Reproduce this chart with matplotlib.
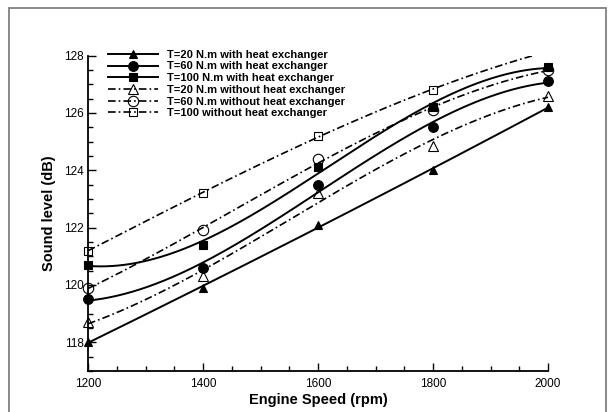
import numpy as np
import matplotlib
matplotlib.use("Agg")
import matplotlib.pyplot as plt
from matplotlib.patches import Rectangle

# engine speed (rpm)
speed = np.array([1200, 1400, 1600, 1800, 2000])

# sound level (dB), with heat exchanger
t20_with = [118.0, 119.9, 122.1, 124.0, 126.2]
t60_with = [119.5, 120.6, 123.5, 125.5, 127.1]
t100_with = [120.7, 121.4, 124.1, 126.2, 127.6]

# sound level (dB), without heat exchanger
t20_without = [118.7, 120.3, 123.2, 124.85, 126.6]
t60_without = [119.9, 121.9, 124.4, 126.1, 127.5]
t100_without = [121.2, 123.2, 125.2, 126.8, 128.15]

labels = ["T=20 N.m with heat exchanger",
          "T=60 N.m with heat exchanger",
          "T=100 N.m with heat exchanger",
          "T=20 N.m without heat exchanger",
          "T=60 N.m without heat exchanger",
          "T=100 without heat exchanger"]

plt.rcParams['font.family'] = ['Liberation Sans', 'DejaVu Sans']
plt.rcParams['lines.scale_dashes'] = False

fig = plt.figure(figsize=(6.15, 4.12), dpi=100)
ax = fig.add_axes([88 / 615, 1 - 371 / 412, 460 / 615, 315.5 / 412])

# grey frame around the whole figure
fig.patches.append(Rectangle((8.5 / 615, -0.05), 597.5 / 615, 1.05 - 7.5 / 412,
                             transform=fig.transFigure, fill=False,
                             edgecolor='#808080', linewidth=1.3))

dashdot = (5.5, 2.2, 1.2, 2.2)
series = [
    (t20_with, '^', 'k', 6.0, None, 3),
    (t60_with, 'o', 'k', 7.0, None, 3),
    (t100_with, 's', 'k', 6.0, None, 3),
    (t20_without, '^', 'none', 6.5, dashdot, 3),
    (t60_without, 'o', 'none', 7.5, dashdot, 3),
    (t100_without, 's', 'none', 6.0, dashdot, 3),
]

xs = np.linspace(1200, 2000, 300)
handles = []
for (vals, mk, fc, ms, dash, deg), lab in zip(series, labels):
    vals = np.array(vals)
    # smooth curve fit, as in the original figure
    coef = np.polyfit((speed - 1600) / 400.0, vals, deg)
    ys = np.polyval(coef, (xs - 1600) / 400.0)
    lw = 1.4 if dash is None else 1.2
    line, = ax.plot(xs, ys, color='k', lw=lw)
    if dash is not None:
        line.set_dashes(dash)
    inside = vals <= 128
    ax.plot(speed[inside], vals[inside], linestyle='none', marker=mk,
            markersize=ms, markerfacecolor=fc, markeredgecolor='k',
            markeredgewidth=0.8, clip_on=False, zorder=3)
    h, = ax.plot([], [], color='k', lw=lw, marker=mk, markersize=ms,
                 markerfacecolor=fc, markeredgecolor='k', markeredgewidth=0.8)
    if dash is not None:
        h.set_dashes(dash)
    handles.append(h)

ax.set_xlim(1200, 2000)
ax.set_ylim(117, 128)
ax.set_xticks([1200, 1400, 1600, 1800, 2000])
ax.set_xticks(np.arange(1200, 2001, 50), minor=True)
ax.set_yticks([118, 120, 122, 124, 126, 128])
ax.set_yticks(np.arange(117, 128.01, 0.5), minor=True)
ax.tick_params(which='both', direction='in', labelsize=8.5, width=1.0)
ax.tick_params(which='major', length=6)
ax.tick_params(which='minor', length=3.5)
ax.tick_params(axis='x', pad=5)
ax.tick_params(axis='y', pad=3)

for side in ['top', 'right']:
    ax.spines[side].set_visible(False)
for side in ['left', 'bottom']:
    ax.spines[side].set_linewidth(1.3)

ax.set_xlabel('Engine Speed (rpm)', fontsize=10.5, fontweight='bold', labelpad=2)
ax.set_ylabel('Sound level (dB)', fontsize=10.5, fontweight='bold', labelpad=6)

leg = ax.legend(handles, labels, loc='upper left', bbox_to_anchor=(0.027, 1.043),
                frameon=False, handlelength=4.5, handletextpad=0.8,
                labelspacing=0.155, borderaxespad=0.3,
                prop={'weight': 'bold', 'size': 8})

fig.savefig('out.png', dpi=100)
